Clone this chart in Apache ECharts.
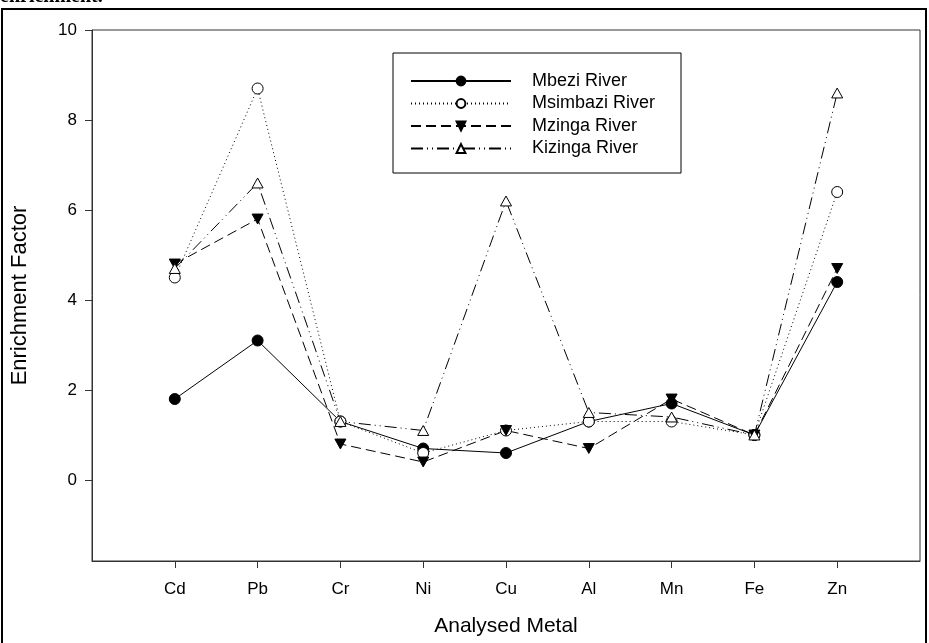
<!DOCTYPE html>
<html>
<head>
<meta charset="utf-8">
<script src="https://cdn.jsdelivr.net/npm/echarts@6/dist/echarts.min.js"></script>
<style>
  html, body { margin: 0; padding: 0; background: #fff; }
  #chart { width: 929px; height: 643px; }
</style>
</head>
<body>
<div id="chart"></div>
<script>
// metals on the x axis (placed at 1..9)
const metals = ['Cd', 'Pb', 'Cr', 'Ni', 'Cu', 'Al', 'Mn', 'Fe', 'Zn'];
const yTicks = [0, 2, 4, 6, 8, 10];

const mbezi    = [1.8, 3.1, 1.3, 0.7, 0.6, 1.3, 1.7, 1.0, 4.4];
const msimbazi = [4.5, 8.7, 1.3, 0.6, 1.1, 1.3, 1.3, 1.0, 6.4];
const mzinga   = [4.8, 5.8, 0.8, 0.4, 1.1, 0.7, 1.8, 1.0, 4.7];
const kizinga  = [4.7, 6.6, 1.3, 1.1, 6.2, 1.5, 1.4, 1.0, 8.6];

const font = 'Liberation Sans, Arial, sans-serif';
const pts = vals => vals.map((v, i) => [i + 1, v]);

const myChart = echarts.init(document.getElementById('chart'));

function lineSeries(name, vals, symbol, fill, dash) {
    return {
        name: name,
        type: 'line',
        data: pts(vals),
        symbol: symbol,
        symbolSize: 11,
        symbolKeepAspect: true,
        lineStyle: { color: '#000', width: 1, type: dash },
        itemStyle: { color: fill, borderColor: '#000', borderWidth: 1 },
        emphasis: { disabled: true },
        animation: false
    };
}

myChart.setOption({
    animation: false,
    grid: {
        left: 92, right: 9, top: 30, bottom: 82,
        show: true, borderColor: '#333', borderWidth: 1
    },
    graphic: [
        {
            type: 'rect',
            shape: { x: 2, y: 9, width: 924, height: 660 },
            style: { fill: 'none', stroke: '#000', lineWidth: 2 }
        },
        {
            type: 'text', left: 0, top: -13,
            style: { text: 'enrichment.', font: 'bold 20px Liberation Serif', fill: '#000' }
        },
        {
            type: 'rect',
            shape: { x: 393, y: 53, width: 288, height: 120 },
            style: { fill: '#fff', stroke: '#000', lineWidth: 1 },
            z: 5
        }
    ],
    legend: {
        orient: 'vertical',
        left: 405, top: 67,
        itemWidth: 100, itemHeight: 11,
        itemGap: 4.5,
        z: 10,
        textStyle: { fontFamily: font, fontSize: 18, lineHeight: 18, color: '#000', padding: [0, 0, 0, 16] },
        data: ['Mbezi River', 'Msimbazi River', 'Mzinga River', 'Kizinga River']
    },
    xAxis: {
        type: 'value', min: 0, max: 10,
        name: 'Analysed Metal', nameLocation: 'middle', nameGap: 55,
        nameTextStyle: { fontFamily: font, fontSize: 21, color: '#000' },
        axisLine: { onZero: false, lineStyle: { color: '#333' } },
        axisTick: { show: true, length: 7, customValues: [1, 2, 3, 4, 5, 6, 7, 8, 9], lineStyle: { color: '#333' } },
        axisLabel: {
            customValues: [1, 2, 3, 4, 5, 6, 7, 8, 9],
            margin: 20,
            fontFamily: font, fontSize: 17, color: '#000',
            formatter: v => metals[Math.round(v) - 1] || ''
        },
        splitLine: { show: false }
    },
    yAxis: {
        type: 'value', min: -1.8, max: 10,
        name: 'Enrichment Factor', nameLocation: 'middle', nameGap: 61,
        nameTextStyle: { fontFamily: font, fontSize: 22, color: '#000' },
        axisLine: { show: true, onZero: false, lineStyle: { color: '#333' } },
        axisTick: { show: true, length: 7, customValues: yTicks, lineStyle: { color: '#333' } },
        axisLabel: { customValues: yTicks, margin: 15, fontFamily: font, fontSize: 17, color: '#000' },
        splitLine: { show: false }
    },
    series: [
        lineSeries('Mbezi River', mbezi, 'circle', '#000', 'solid'),
        lineSeries('Msimbazi River', msimbazi, 'circle', '#fff', [1, 3]),
        lineSeries('Mzinga River', mzinga, 'path://M0,0 L10,0 L5,9 Z', '#000', [10, 5]),
        lineSeries('Kizinga River', kizinga, 'path://M5,0 L10,9 L0,9 Z', '#fff', [12, 4, 1, 4, 1, 4])
    ]
});
</script>
</body>
</html>
